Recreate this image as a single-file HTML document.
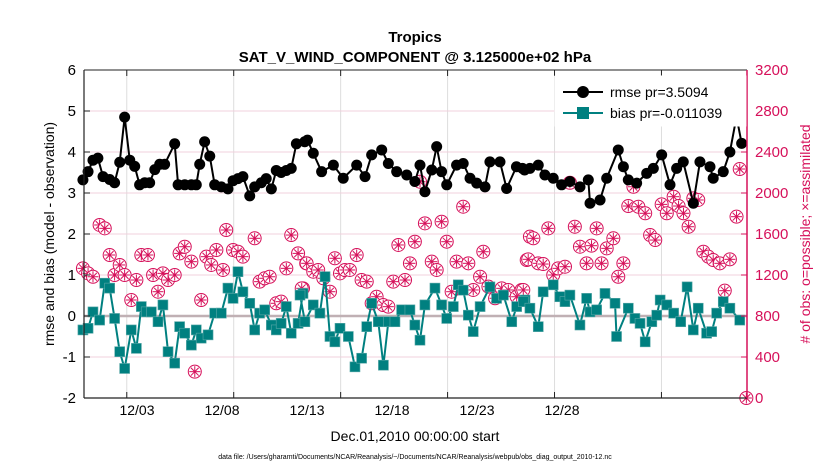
<!DOCTYPE html>
<html><head><meta charset="utf-8"><style>
body{margin:0;background:#fff;}
svg{display:block;font-family:"Liberation Sans",Arial,sans-serif;}
</style></head><body>
<svg id="chart" width="830" height="470" viewBox="0 0 830 470" xmlns="http://www.w3.org/2000/svg">
<rect width="830" height="470" fill="#fff"/>
<g id="grid"></g>
<g id="series"></g>
<g id="axes"></g>
<text x="415" y="42" text-anchor="middle" font-size="15" font-weight="bold">Tropics</text>
<text x="415" y="62" text-anchor="middle" font-size="15" font-weight="bold">SAT_V_WIND_COMPONENT @ 3.125000e+02 hPa</text>
<text transform="translate(54,234) rotate(-90)" text-anchor="middle" font-size="14">rmse and bias (model - observation)</text>
<text transform="translate(810,234) rotate(-90)" text-anchor="middle" font-size="14" fill="#d6105a"># of obs: o=possible; ×=assimilated</text>
<text x="415" y="441" text-anchor="middle" font-size="14">Dec.01,2010 00:00:00 start</text>
<text x="415" y="459" text-anchor="middle" font-size="7">data file: /Users/gharamti/Documents/NCAR/Reanalysis/~/Documents/NCAR/Reanalysis/webpub/obs_diag_output_2010-12.nc</text>
<g>
<rect x="555" y="76" width="191" height="50" fill="#fff" stroke="#fff"/>
<g>
<line x1="563" y1="92" x2="603" y2="92" stroke="#000" stroke-width="2"/>
<circle cx="583" cy="92" r="6" fill="#000"/>
<text x="610" y="97" font-size="14">rmse pr=3.5094</text></g>
<g>
<line x1="563" y1="113" x2="603" y2="113" stroke="#008080" stroke-width="2"/>
<rect x="577" y="107" width="12" height="12" fill="#008080"/>
<text x="610" y="118" font-size="14">bias pr=-0.011039</text></g>
</g>
</svg>
<script>
const rmseDays=[-0.05,0.19,0.42,0.65,0.89,1.2,1.43,1.67,1.9,2.14,2.37,2.6,2.84,3.07,3.31,3.54,3.77,4.24,4.4,4.71,5.02,5.25,5.41,5.64,5.88,6.11,6.42,6.73,6.97,7.2,7.43,7.75,7.98,8.29,8.52,8.76,8.99,9.22,9.46,9.69,9.93,10.32,
10.45,10.72,11.11,11.66,12.12,12.75,13.14,13.45,13.92,14.23,14.62,15.09,15.47,15.71,15.94,16.26,16.49,16.72,16.96,17.42,17.73,18.05,18.36,18.75,18.98,19.45,19.76,20.22,20.5,
20.6,20.85,21.24,21.55,21.94,22.33,22.72,23.19,23.58,23.66,24.13,24.44,24.98,25.22,25.45,25.84,26.31,26.62,27.01,27.4,27.71,28.02,28.49,28.8,29.27,29.42,29.89,30.2,30.51,30.75];
const rmse=[3.32,3.52,3.8,3.85,3.4,3.33,3.25,3.75,4.85,3.8,3.65,3.2,3.25,3.25,3.57,3.7,3.7,4.2,3.2,3.2,3.2,3.2,3.7,4.25,3.9,3.2,3.15,3.1,3.3,3.35,3.4,2.93,3.15,3.25,3.35,3.1,3.55,3.5,3.55,3.6,4.2,4.25,
4.29,3.97,3.52,3.68,3.36,3.68,3.4,3.93,4.05,3.72,3.52,3.44,3.28,3.68,3.03,3.56,4.13,3.52,3.2,3.68,3.72,3.36,3.24,3.15,3.76,3.76,3.11,3.64,3.6,
3.56,3.6,3.68,3.44,3.36,3.2,3.28,3.15,3.32,2.75,2.83,3.36,4.05,3.64,3.32,3.24,3.48,3.6,3.93,3.2,3.6,3.76,2.75,3.76,3.64,3.36,3.52,4.0,4.86,4.21];
const biasDays=[-0.05,0.19,0.42,0.73,0.97,1.2,1.43,1.67,1.9,2.21,2.45,2.68,2.91,3.15,3.46,3.69,3.93,4.24,4.47,4.71,5.02,5.25,5.48,5.8,6.11,6.42,6.73,6.97,7.2,7.43,7.75,7.98,8.21,8.45,8.76,8.99,9.22,9.46,9.69,10.01,10.24,
10.1,10.33,10.72,11.03,11.27,11.5,11.73,11.97,12.36,12.67,12.98,13.22,13.45,13.76,14,14.23,14.54,14.85,15.24,15.47,15.71,15.94,16.41,16.72,16.96,17.27,17.5,17.73,17.97,18.2,18.52,18.98,19.29,19.61,20,20.23,20.62,
20.54,20.85,21.24,21.47,21.94,22.25,22.49,22.72,23.19,23.5,23.66,23.97,24.36,24.83,24.9,25.45,25.76,26,26.24,26.55,26.78,26.94,27.25,27.57,27.9,28.2,28.49,28.72,29.11,29.35,29.58,29.89,30.2,30.66];
const bias=[-0.34,-0.30,0.10,-0.10,0.80,0.68,-0.06,-0.87,-1.28,-0.34,-0.79,0.23,0.10,0.10,-0.14,0.27,-0.87,-1.15,-0.26,-0.42,-0.71,-0.34,-0.54,-0.46,0.07,0.07,0.68,0.43,1.08,0.59,0.31,-0.34,0.07,0.15,-0.22,-0.34,-0.18,0.23,-0.42,-0.18,0.55,
0.51,-0.14,0.27,0.07,0.96,-0.5,-0.63,-0.3,-0.5,-1.24,-1.03,-0.26,0.31,-0.14,-1.2,-0.14,-0.14,0.15,0.15,-0.22,-0.59,0.27,0.68,0.27,-0.06,0.23,0.76,0.63,0.02,-0.38,0.23,0.71,0.43,0.51,-0.14,0.23,0.39,
0.35,0.19,-0.26,0.59,0.76,0.47,0.35,0.51,-0.22,0.43,0.10,0.15,0.55,0.31,-0.5,0.19,-0.06,-0.18,-0.63,-0.14,0.02,0.39,0.27,0.07,-0.14,0.71,-0.34,0.19,-0.42,-0.38,0.07,0.35,0.19,-0.1];
const obsDays=[-0.05,0.19,0.42,0.73,0.97,1.2,1.43,1.67,1.9,2.21,2.45,2.68,2.99,3.23,3.46,3.69,3.93,4.24,4.47,4.71,5.02,5.18,5.48,5.72,5.95,6.19,6.5,6.65,6.97,7.2,7.43,7.98,8.21,8.45,8.68,8.99,9.22,9.46,9.69,10.01,10.24,10.39,
10.18,10.41,10.72,10.95,11.19,11.5,11.73,11.97,12.2,12.43,12.75,12.98,13.22,13.45,13.68,13.99,14.23,14.46,14.7,15.01,15.24,15.47,15.71,15.94,16.26,16.49,16.72,16.96,17.19,17.42,17.73,17.97,18.2,18.52,18.67,18.91,19.22,19.53,19.84,20.23,20.46,20.7,20.85,
20.54,20.77,21.01,21.24,21.47,21.71,21.94,22.17,22.49,22.72,22.95,23.19,23.5,23.73,23.97,24.2,24.44,24.75,24.98,25.22,25.45,25.69,25.92,26.24,26.47,26.71,27.01,27.25,27.57,27.8,28.03,28.27,28.49,28.72,28.96,29.19,29.42,29.73,29.96,30.2,30.51,30.66,30.97];
const obsCount=[1265,1216,1183,1688,1655,1395,1200,1298,1200,956,1151,1395,1395,1200,1037,1216,1151,1200,1411,1476,1330,257,956,1379,1298,1444,1249,1639,1444,1427,1379,1558,1135,1168,1183,924,940,1265,1590,1411,1070,1314,
1070,1314,1232,1249,1168,1037,1363,1216,1249,1249,1395,1151,1135,924,988,907,891,1135,1493,1151,1314,1525,2110,1704,1330,1249,1720,1525,1037,1330,1866,1314,1054,1183,1427,1086,973,1070,1054,988,1054,1346,1574,
1054,1353,1558,1314,1307,1655,1200,1265,1281,2100,1671,1476,1314,1486,1655,1314,1460,1558,1183,1314,1873,2061,1866,1802,1590,1541,1889,1802,1964,1873,1802,1671,1948,1932,1427,1379,1346,1314,1047,1353,1769,2234,0];
const yTicks=[-2,-1,0,1,2,3,4,5,6];
const y2Ticks=[0,400,800,1200,1600,2000,2400,2800,3200];
const xTickDays=[2,7,12,17,22,27];
const xTickLabels=["12/03","12/08","12/13","12/18","12/23","12/28"];

const L=84,R=747,T=70,B=398;
const NS="http://www.w3.org/2000/svg";
const yS=v=>B-(v+2)/8*(B-T);
const y2S=v=>B-v/3200*(B-T);
const xS=d=>L+d/31*(R-L);
function mk(tag,attrs,parent){const e=document.createElementNS(NS,tag);for(const k in attrs)e.setAttribute(k,attrs[k]);parent.appendChild(e);return e;}
const grid=document.getElementById('grid'),ser=document.getElementById('series'),ax=document.getElementById('axes');
xTickDays.forEach((d,k)=>{const x=xS(d);
 const g=mk('line',{x1:x,x2:x,y1:T,y2:B,stroke:'#ddd','stroke-width':1},grid);
 
 
 mk('line',{x1:x,x2:x,y1:B,y2:B-6,stroke:'#222'},ax);
 mk('line',{x1:x,x2:x,y1:T,y2:T+6,stroke:'#222'},ax);
 const t=mk('text',{x:137+85*k,y:415,'text-anchor':'middle','font-size':14},ax);
 t.textContent=xTickLabels[k];
 
 
});
yTicks.forEach(v=>{const y=yS(v);
 if(v!==0&&v!==-2&&v!==6){const g=mk('line',{x1:L,x2:R,y1:y,y2:y,stroke:'#f0d0dc','stroke-width':1},grid);
 
 }
 mk('line',{x1:L,x2:L+6,y1:y,y2:y,stroke:'#222'},ax);
 const t=mk('text',{x:L-8,y:y+5,'text-anchor':'end','font-size':15},ax);
 t.textContent=v;
 
 
});
y2Ticks.forEach(v=>{const y=y2S(v);
 mk('line',{x1:R-6,x2:R,y1:y,y2:y,stroke:'#d6105a'},ax);
 const t=mk('text',{x:R+8,y:y+5,'font-size':15,fill:'#d6105a'},ax);
 t.textContent=v;
 
 
});
const zl=mk('line',{x1:L,x2:R,y1:yS(0),y2:yS(0),stroke:'#c0b0b4','stroke-width':2.5},grid);


const la=mk('line',{x1:L,x2:L,y1:T,y2:B,stroke:'#222','stroke-width':1.2},ax);


mk('line',{x1:L,x2:R,y1:B,y2:B,stroke:'#222','stroke-width':1.2},ax);
mk('line',{x1:L,x2:R,y1:T,y2:T,stroke:'#222','stroke-width':1},ax);
const ra=mk('line',{x1:R,x2:R,y1:T,y2:B,stroke:'#d6105a','stroke-width':1.5},ax);


obsCount.forEach((v,i)=>{const x=xS(obsDays[i]),y=y2S(v);
 const g=mk('g',{stroke:'#d6105a',fill:'none','stroke-width':1},ser);
 
 
 mk('circle',{cx:x,cy:y,r:6.5,fill:'#fff'},g);
 for(let a=0;a<4;a++){const an=a*Math.PI/4,dx=5.5*Math.cos(an),dy=5.5*Math.sin(an);
  mk('line',{x1:x-dx,y1:y-dy,x2:x+dx,y2:y+dy},g);}
});
const bp=bias.map((v,i)=>xS(biasDays[i])+','+yS(v)).join(' ');
const bl=mk('polyline',{points:bp,fill:'none',stroke:'#008080','stroke-width':2},ser);


bias.forEach((v,i)=>{const r=mk('rect',{x:xS(biasDays[i])-5,y:yS(v)-5,width:10,height:10,fill:'#008080',stroke:'#5aa8a8','stroke-width':0.6},ser);
 
 });
const rp=rmse.map((v,i)=>xS(rmseDays[i])+','+yS(v)).join(' ');
const rl=mk('polyline',{points:rp,fill:'none',stroke:'#000','stroke-width':2},ser);


rmse.forEach((v,i)=>{const c=mk('circle',{cx:xS(rmseDays[i]),cy:yS(v),r:5.5,fill:'#000'},ser);
 
 });
</script>
</body></html>
